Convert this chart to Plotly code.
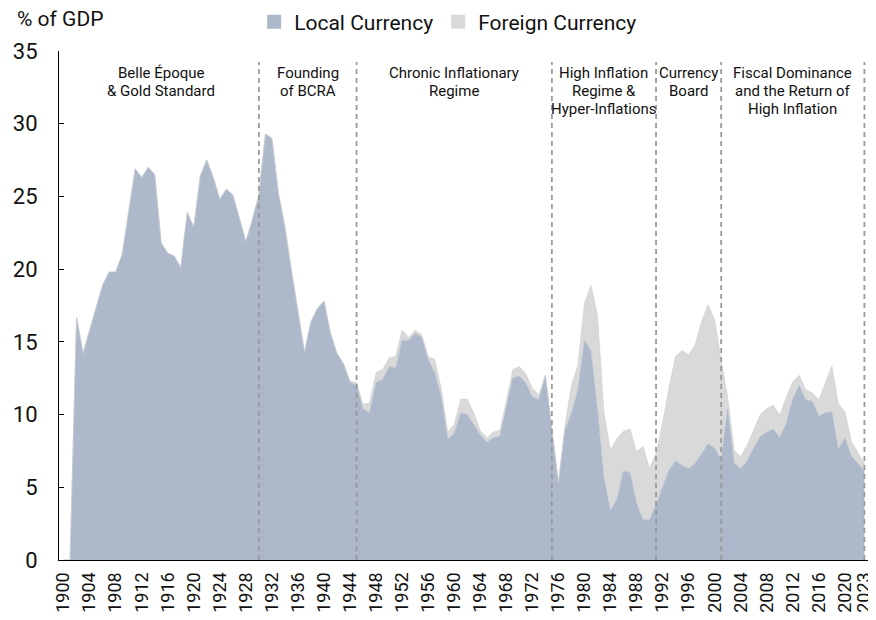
import plotly.graph_objects as go

years = list(range(1900, 2024))

# Local-currency debt, % of GDP
local_currency = [
    0.0, 0.0, 16.7, 14.2, 15.8, 17.4, 18.9, 19.8, 19.8, 21.0,      # 1900-1909
    23.8, 26.9, 26.3, 27.0, 26.5, 21.8, 21.1, 20.9, 20.1, 23.9,    # 1910-1919
    22.9, 26.4, 27.5, 26.3, 24.8, 25.5, 25.1, 23.5, 21.9, 23.4,    # 1920-1929
    25.1, 29.3, 29.0, 25.2, 22.9, 19.9, 17.0, 14.3, 16.4, 17.3,    # 1930-1939
    17.8, 15.6, 14.2, 13.5, 12.2, 12.0, 10.4, 10.1, 12.2, 12.4,    # 1940-1949
    13.3, 13.2, 15.1, 15.1, 15.6, 15.3, 13.8, 12.9, 11.2, 8.3,     # 1950-1959
    8.7, 10.1, 10.0, 9.3, 8.6, 8.1, 8.4, 8.5, 10.5, 12.5,          # 1960-1969
    12.65, 12.15, 11.2, 11.0, 12.7, 9.0, 5.3, 8.9, 10.1, 11.7,     # 1970-1979
    15.1, 14.4, 10.3, 5.6, 3.4, 4.2, 6.1, 6.0, 3.9, 2.75,          # 1980-1989
    2.75, 3.8, 5.0, 6.2, 6.8, 6.5, 6.3, 6.65, 7.3, 8.0,            # 1990-1999
    7.7, 6.9, 10.4, 6.65, 6.3, 6.8, 7.7, 8.5, 8.8, 9.0,            # 2000-2009
    8.4, 9.4, 11.1, 12.0, 11.0, 10.9, 9.9, 10.1, 10.2, 7.6,        # 2010-2019
    8.4, 7.15, 6.65, 6.1,                                          # 2020-2023
]

# Foreign-currency debt, % of GDP
foreign_currency = [
    0.0, 0.0, 0.0, 0.0, 0.0, 0.0, 0.0, 0.0, 0.0, 0.0,              # 1900-1909
    0.0, 0.0, 0.0, 0.0, 0.0, 0.0, 0.0, 0.0, 0.0, 0.0,              # 1910-1919
    0.0, 0.0, 0.0, 0.0, 0.0, 0.0, 0.0, 0.0, 0.0, 0.0,              # 1920-1929
    0.0, 0.0, 0.0, 0.0, 0.0, 0.0, 0.0, 0.0, 0.0, 0.0,              # 1930-1939
    0.0, 0.0, 0.0, 0.0, 0.1, 0.2, 0.3, 0.7, 0.7, 0.7,              # 1940-1949
    0.6, 0.8, 0.7, 0.2, 0.2, 0.2, 0.2, 0.9, 0.6, 0.5,              # 1950-1959
    0.6, 0.95, 1.05, 0.8, 0.3, 0.3, 0.4, 0.4, 0.4, 0.6,            # 1960-1969
    0.65, 0.65, 0.6, 0.35, 0.0, 0.0, 0.0, 0.3, 1.9, 1.7,           # 1970-1979
    2.55, 4.5, 6.55, 4.5, 4.15, 4.15, 2.75, 3.0, 3.55, 5.05,       # 1980-1989
    3.55, 3.55, 4.4, 5.7, 7.2, 7.9, 7.8, 8.15, 9.1, 9.55,          # 1990-1999
    8.8, 6.85, 0.8, 0.9, 0.8, 1.1, 1.25, 1.5, 1.6, 1.65,           # 2000-2009
    1.55, 1.8, 1.15, 0.7, 0.7, 0.6, 1.1, 2.05, 3.15, 3.15,         # 2010-2019
    1.8, 1.0, 0.7, 0.55,                                           # 2020-2023
]

# Period boundaries and labels (one list of lines per period)
period_bounds = [1900, 1930, 1945, 1975, 1991, 2001, 2023]
period_labels = [
    ["Belle Époque", "& Gold Standard"],
    ["Founding", "of BCRA"],
    ["Chronic Inflationary", "Regime"],
    ["High Inflation", "Regime &", "Hyper-Inflations"],
    ["Currency", "Board"],
    ["Fiscal Dominance", "and the Return of", "High Inflation"],
]

x_ticks = list(range(1900, 2021, 4)) + [2023]

LOCAL_COLOR = "#adb9cb"
FOREIGN_COLOR = "#d9d9d9"
TEXT_FONT = "Roboto, Arial, sans-serif"

fig = go.Figure()
fig.add_trace(go.Scatter(
    x=years, y=local_currency, name="Local Currency", stackgroup="debt",
    mode="lines", line=dict(width=0.6, color=LOCAL_COLOR),
    fillcolor=LOCAL_COLOR, showlegend=False, hoverinfo="x+y",
))
fig.add_trace(go.Scatter(
    x=years, y=foreign_currency, name="Foreign Currency", stackgroup="debt",
    mode="lines", line=dict(width=0.6, color="#cfcfcf"),
    fillcolor=FOREIGN_COLOR, showlegend=False, hoverinfo="x+y",
))
# legend entries (square swatches)
fig.add_trace(go.Scatter(
    x=[None], y=[None], mode="markers", name="Local Currency",
    marker=dict(symbol="square", size=14, color=LOCAL_COLOR),
))
fig.add_trace(go.Scatter(
    x=[None], y=[None], mode="markers", name="Foreign Currency",
    marker=dict(symbol="square", size=14, color=FOREIGN_COLOR),
))

shapes = []
for b in period_bounds[1:]:
    shapes.append(dict(
        type="line", xref="x", yref="y", x0=b, x1=b, y0=0, y1=34.25,
        line=dict(color="#9a9a9a", width=1.8, dash="5px,4px"), layer="above",
    ))

annotations = []
for i, lines in enumerate(period_labels):
    mid = (period_bounds[i] + period_bounds[i + 1]) / 2
    for k, line_text in enumerate(lines):
        annotations.append(dict(
            x=mid, y=0.975, xref="x", yref="paper", text=line_text,
            showarrow=False, xanchor="center", yanchor="top",
            yshift=2 - 18 * k,
            font=dict(family=TEXT_FONT, size=15, color="#111111"),
        ))
annotations.append(dict(
    x=-0.055, y=1.062, xref="paper", yref="paper", text="% of GDP",
    showarrow=False, xanchor="left", yanchor="middle",
    font=dict(family=TEXT_FONT, size=21, color="#111111"),
))

# the page body adds an 8px offset, so the figure is 8px smaller each way
fig.update_layout(
    width=868, height=612,
    margin=dict(l=51, r=8, t=43, b=60, autoexpand=False),
    paper_bgcolor="white", plot_bgcolor="white",
    shapes=shapes, annotations=annotations,
    legend=dict(
        orientation="h", x=0.481, y=1.057, xanchor="center", yanchor="middle",
        traceorder="normal",
        font=dict(family=TEXT_FONT, size=21, color="#111111"),
        itemwidth=30, tracegroupgap=0, bgcolor="rgba(0,0,0,0)",
    ),
    xaxis=dict(
        range=[1899.3, 2023.55], tickvals=x_ticks,
        ticktext=[str(t) for t in x_ticks], tickangle=-90,
        showgrid=False, zeroline=False, showline=True,
        linecolor="#000000", linewidth=1.2, ticks="",
        tickfont=dict(family=TEXT_FONT, size=18, color="#111111"),
        ticklabelstandoff=4,
    ),
    yaxis=dict(
        range=[0, 35], dtick=5, showgrid=False, zeroline=False,
        showline=True, linecolor="#000000", linewidth=1,
        ticks="inside", ticklen=5, tickcolor="#000000",
        tickfont=dict(family=TEXT_FONT, size=22, color="#111111"),
        ticklabelstandoff=16,
    ),
)

fig.write_html("out.html")
